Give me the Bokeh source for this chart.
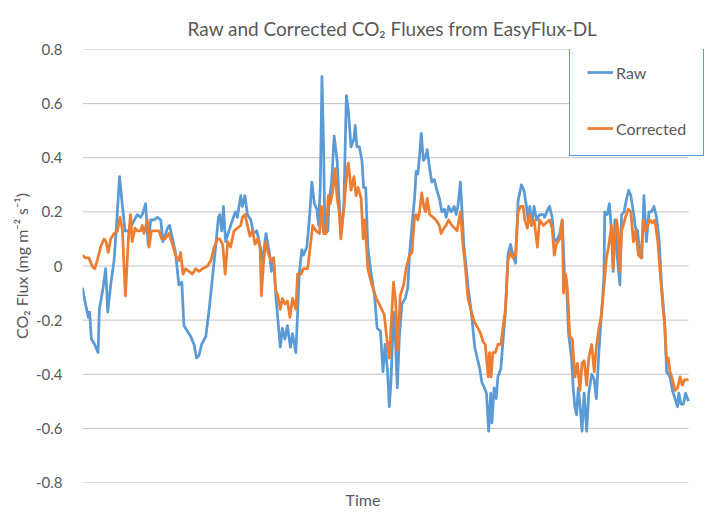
from bokeh.plotting import figure
from bokeh.models import Range1d, FixedTicker, Legend, LegendItem, Title
from bokeh.embed import file_html
from bokeh.resources import INLINE

# Time in hours from start of record
raw_time = [0, 0.7, 1.4, 1.7, 2.1, 2.9, 3.7, 4.0, 4.8, 5.5, 6.0, 6.7, 7.5, 8.0, 8.8, 9.5, 10.1, 11.0,
            12.0, 13.0, 13.8, 14.2, 15.0, 15.6, 16.2, 17.0, 17.8, 18.6, 19.1, 20.2, 20.7, 21.4, 22.1,
            22.9, 23.6, 24.1, 24.9, 25.7, 26.5, 27.1, 27.7, 28.3, 29.3, 30.1, 30.7, 31.5, 32.3, 32.6,
            33.1, 33.5, 34.0, 34.8, 36.3, 36.8, 37.6, 38.0, 38.6, 39.2, 40.0, 40.6, 41.4, 42.0, 42.8,
            43.6, 44.4, 44.9, 45.4, 46.0, 46.5, 47.0, 47.5, 48.1, 48.7, 49.4, 49.9, 50.7, 51.1, 51.5,
            52.1, 52.5, 53.3, 53.9, 54.5, 55.1, 55.7, 56.1, 56.5, 56.9, 57.3, 57.6, 58.3, 58.6, 59.2,
            59.8, 60.5, 61.0, 61.4, 62.1, 62.7, 63.2, 63.8, 64.5, 64.8, 65.2, 65.8, 66.4, 66.8, 67.3,
            67.8, 68.6, 69.4, 70.0, 70.8, 71.4, 71.9, 72.5, 72.9, 73.3, 73.9, 74.4, 74.8, 75.3, 75.9,
            76.7, 77.3, 77.7, 78.3, 78.9, 79.3, 79.7, 80.1, 80.5, 81.0, 81.5, 81.9, 82.5, 83.0, 83.6,
            84.2, 84.8, 85.4, 86.0, 86.4, 87.0, 87.6, 88.3, 88.8, 89.2, 89.8, 90.2, 90.6, 91.2, 91.7,
            92.4, 93.2, 93.8, 94.4, 94.9, 95.5, 96.0, 96.5, 97.0, 97.3, 97.8, 98.3, 98.7, 99.4, 99.9,
            100.5, 101.1, 101.7, 102.3, 102.9, 103.5, 104.3, 104.9, 105.5, 105.9, 106.3, 106.7, 107.3,
            107.9, 108.6, 109.5, 109.8, 110.6, 111.0, 111.6, 112.1, 112.9, 113.4, 114.0, 114.5, 115.0,
            115.5, 116.2, 116.6, 117.0, 117.4, 117.8, 118.2, 118.7, 119.2, 119.8, 120.3, 121.0, 121.6,
            122.1, 122.7, 123.3, 123.6, 123.9, 124.1, 124.7, 125.2, 125.7, 126.1, 126.5, 127.1, 127.7,
            128.1, 128.7, 129.3, 129.8, 130.3, 130.9, 131.4, 131.9, 132.5, 132.9, 133.4, 134.0, 134.6,
            135.2, 135.8, 136.4, 137.0, 137.6, 138.3, 138.8, 139.6, 140.2, 140.8, 141.4, 141.7, 142.2,
            142.8, 143.3, 144.0]
raw_flux = [-0.08, -0.14, -0.19, -0.17, -0.27, -0.29, -0.32, -0.16, -0.09, -0.01, -0.17, -0.07, 0.02,
            0.13, 0.33, 0.22, 0.13, 0.13, 0.16, 0.19, 0.18, 0.19, 0.23, 0.08, 0.17, 0.17, 0.18, 0.17,
            0.09, 0.14, 0.15, 0.10, 0.05, -0.07, -0.06, -0.22, -0.24, -0.26, -0.29, -0.34, -0.33, -0.29,
            -0.26, -0.16, -0.07, 0.05, 0.18, 0.19, 0.13, 0.22, 0.09, 0.13, 0.20, 0.18, 0.26, 0.22, 0.26,
            0.19, 0.17, 0.12, 0.13, 0.09, 0.02, 0.12, 0.05, -0.02, 0.03, -0.12, -0.21, -0.30, -0.23,
            -0.27, -0.22, -0.30, -0.25, -0.32, -0.18, -0.03, 0.06, 0.04, 0.07, 0.17, 0.31, 0.23, 0.21,
            0.15, 0.29, 0.70, 0.43, 0.12, 0.13, 0.24, 0.31, 0.48, 0.39, 0.24, 0.12, 0.22, 0.63, 0.57,
            0.44, 0.47, 0.52, 0.44, 0.44, 0.39, 0.29, 0.29, 0.07, -0.03, -0.11, -0.23, -0.24, -0.39,
            -0.29, -0.39, -0.52, -0.43, -0.17, -0.29, -0.45, -0.26, -0.14, -0.12, -0.08, 0.04, 0.15,
            0.25, 0.35, 0.34, 0.41, 0.49, 0.39, 0.40, 0.43, 0.36, 0.31, 0.32, 0.28, 0.25, 0.20, 0.21,
            0.18, 0.22, 0.20, 0.22, 0.19, 0.22, 0.31, 0.20, 0.08, -0.01, -0.09, -0.17, -0.30, -0.34,
            -0.38, -0.43, -0.45, -0.47, -0.61, -0.47, -0.58, -0.45, -0.49, -0.41, -0.38, -0.28, -0.17,
            0.04, 0.08, 0.04, 0.01, 0.24, 0.30, 0.28, 0.22, 0.17, 0.22, 0.15, 0.22, 0.17, 0.19, 0.19,
            0.18, 0.21, 0.22, 0.18, 0.09, 0.10, 0.12, 0.17, -0.02, -0.06, -0.25, -0.34, -0.45, -0.52,
            -0.55, -0.45, -0.51, -0.61, -0.47, -0.61, -0.47, -0.40, -0.42, -0.49, -0.32, -0.18, -0.12,
            -0.04, 0.20, 0.19, 0.23, 0.13, -0.02, 0.17, 0.03, -0.07, 0.19, 0.20, 0.25, 0.28, 0.26, 0.20,
            0.14, 0.13, 0.04, 0.03, 0.26, 0.09, 0.20, 0.20, 0.22, 0.18, 0.10, -0.07, -0.20, -0.39, -0.41,
            -0.46, -0.49, -0.52, -0.47, -0.51, -0.51, -0.47, -0.50]

cor_time = [0, 0.7, 1.5, 2.3, 2.9, 3.5, 4.3, 5.1, 5.6, 6.1, 6.7, 7.5, 8.3, 8.9, 9.5, 9.8, 10.2, 10.9,
            11.4, 11.8, 12.5, 13.0, 13.8, 14.2, 14.6, 15.4, 15.8, 16.4, 17.4, 18.2, 18.8, 19.6, 20.5,
            21.4, 22.1, 22.9, 23.3, 23.9, 24.5, 25.3, 26.1, 26.9, 27.7, 28.5, 29.7, 30.5, 31.3, 32.1,
            32.6, 33.3, 33.9, 34.5, 35.2, 36.0, 36.8, 37.6, 38.0, 38.6, 39.2, 39.8, 40.4, 41.0, 41.6,
            42.2, 42.5, 43.0, 43.5, 44.1, 44.8, 45.4, 45.9, 46.4, 47.0, 47.5, 48.1, 48.7, 49.3, 49.9,
            50.7, 51.1, 51.9, 52.5, 53.5, 54.1, 54.7, 55.5, 56.3, 56.8, 57.3, 57.9, 58.4, 58.9, 59.5,
            60.0, 60.5, 61.0, 61.4, 62.2, 62.9, 63.2, 63.8, 64.5, 65.0, 65.5, 66.2, 66.7, 67.1, 67.8,
            68.6, 69.0, 69.8, 70.5, 71.4, 71.7, 72.4, 72.9, 73.3, 73.9, 74.4, 74.9, 75.5, 76.3, 76.9,
            77.7, 78.3, 78.9, 79.3, 79.7, 80.1, 80.6, 81.1, 81.5, 81.9, 82.5, 83.3, 84.0, 84.8, 85.2,
            85.9, 86.4, 87.0, 87.8, 88.4, 89.0, 89.8, 90.4, 91.0, 91.6, 92.4, 93.2, 94.0, 94.6, 95.2,
            95.7, 96.4, 96.7, 97.1, 97.5, 98.1, 98.7, 99.4, 99.9, 100.5, 101.1, 101.7, 102.3, 102.9,
            103.5, 104.1, 104.7, 105.1, 105.7, 106.3, 106.7, 107.3, 108.1, 108.6, 109.5, 110.2, 111.0,
            111.6, 112.1, 112.6, 113.4, 114.0, 114.3, 114.8, 115.2, 115.8, 116.4, 117.0, 117.6, 118.2,
            118.7, 119.2, 119.8, 120.3, 121.0, 121.6, 122.1, 122.7, 123.3, 124.0, 124.5, 125.1, 125.7,
            126.1, 126.5, 126.9, 127.3, 127.7, 128.1, 128.5, 129.0, 129.7, 130.3, 130.9, 131.4, 132.1,
            132.7, 133.3, 133.8, 134.3, 134.8, 135.4, 136.0, 136.7, 137.2, 137.8, 138.4, 138.8, 139.2,
            139.6, 140.2, 140.8, 141.4, 142.0, 142.5, 143.1, 144.0]
cor_flux = [0.04, 0.03, 0.03, 0.00, -0.01, 0.02, 0.07, 0.10, 0.09, 0.05, 0.10, 0.12, 0.13, 0.18, 0.13,
            0.02, -0.11, 0.10, 0.19, 0.09, 0.14, 0.13, 0.13, 0.15, 0.12, 0.17, 0.07, 0.13, 0.13, 0.13,
            0.10, 0.10, 0.12, 0.08, 0.04, 0.02, 0.05, -0.03, -0.01, -0.02, -0.03, -0.01, -0.02, -0.01,
            0.00, 0.02, 0.07, 0.10, 0.10, 0.08, -0.03, 0.09, 0.07, 0.13, 0.14, 0.15, 0.18, 0.19, 0.15,
            0.11, 0.13, 0.08, 0.10, 0.07, -0.11, 0.01, 0.09, 0.05, 0.02, 0.03, -0.09, -0.11, -0.16,
            -0.12, -0.14, -0.13, -0.19, -0.12, -0.16, -0.03, -0.03, -0.01, -0.01, 0.07, 0.15, 0.13,
            0.12, 0.22, 0.12, 0.12, 0.26, 0.23, 0.28, 0.36, 0.25, 0.20, 0.10, 0.23, 0.36, 0.38, 0.28,
            0.33, 0.26, 0.29, 0.25, 0.10, 0.17, -0.01, -0.06, -0.08, -0.12, -0.14, -0.17, -0.18, -0.28,
            -0.34, -0.23, -0.06, -0.13, -0.31, -0.11, -0.07, -0.01, 0.04, 0.05, 0.18, 0.19, 0.17, 0.20,
            0.27, 0.22, 0.20, 0.25, 0.19, 0.18, 0.17, 0.15, 0.12, 0.14, 0.15, 0.17, 0.15, 0.14, 0.13,
            0.20, 0.08, -0.01, -0.12, -0.17, -0.21, -0.23, -0.25, -0.28, -0.29, -0.41, -0.32, -0.41,
            -0.32, -0.32, -0.29, -0.29, -0.23, -0.16, 0.02, 0.05, 0.03, 0.04, 0.20, 0.22, 0.22, 0.17,
            0.14, 0.19, 0.15, 0.17, 0.07, 0.17, 0.15, 0.16, 0.17, 0.14, 0.04, 0.08, 0.10, 0.17, -0.10,
            -0.03, -0.08, -0.26, -0.27, -0.41, -0.36, -0.46, -0.36, -0.35, -0.44, -0.34, -0.29, -0.39,
            -0.30, -0.23, -0.18, -0.06, 0.03, 0.08, 0.15, -0.01, 0.09, 0.17, 0.13, -0.02, 0.13, 0.15,
            0.18, 0.21, 0.20, 0.09, 0.13, 0.04, 0.03, 0.17, 0.13, 0.15, 0.17, 0.16, 0.17, 0.09, -0.01,
            -0.13, -0.23, -0.35, -0.34, -0.39, -0.42, -0.46, -0.45, -0.41, -0.44, -0.42, -0.42]

y_ticks = [-0.8, -0.6, -0.4, -0.2, 0.0, 0.2, 0.4, 0.6, 0.8]
y_tick_labels = ["-0.8", "-0.6", "-0.4", "-0.2", "0", "0.2", "0.4", "0.6", "0.8"]
series_names = ["Raw", "Corrected"]

FONT = "Lato"
TXT = "#595959"
GRID = "#C3C3C3"

# frame spans the legend too; data occupies the left part of it
p = figure(width=715, height=514, output_backend="svg", toolbar_location=None,
           x_range=Range1d(0, 149.94), y_range=Range1d(-0.8, 0.8),
           min_border_left=82, min_border_right=2, min_border_top=49, min_border_bottom=32)
p.outline_line_color = None
p.background_fill_color = "white"
p.border_fill_color = "white"

p.add_layout(Title(text="Raw and Corrected CO\u2082 Fluxes from EasyFlux-DL", align="left",
                   offset=105, standoff=20, text_font=FONT, text_font_size="19px",
                   text_font_style="normal", text_color=TXT), "above")

p.xgrid.visible = False
p.ygrid.visible = False

ya = p.yaxis[0]
ya.ticker = FixedTicker(ticks=y_ticks)
ya.major_label_overrides = {t: l for t, l in zip(y_ticks, y_tick_labels)}
ya.axis_line_color = None
ya.major_tick_line_color = None
ya.minor_tick_line_color = None
ya.major_label_standoff = 14
ya.major_label_text_font = FONT
ya.major_label_text_font_size = "15px"
ya.major_label_text_color = TXT
ya.axis_label = "CO\u2082 Flux (mg m\u207b\u00b2 s\u207b\u00b9)"
ya.axis_label_text_font = FONT
ya.axis_label_text_font_size = "16px"
ya.axis_label_text_font_style = "normal"
ya.axis_label_text_color = TXT
ya.axis_label_standoff = 2

p.xaxis.visible = False
p.add_layout(Title(text="Time", align="left", offset=263, standoff=10,
                   text_font=FONT, text_font_size="16px", text_font_style="normal",
                   text_color=TXT), "below")

# horizontal gridlines spanning the time axis
n = len(y_ticks)
p.segment(x0=[raw_time[0]] * n, x1=[raw_time[-1]] * n, y0=y_ticks, y1=y_ticks,
          line_color=GRID, line_width=1)

r_raw = p.line(raw_time, raw_flux, line_color="#5B9BD5", line_width=2.75, line_join="round")
r_cor = p.line(cor_time, cor_flux, line_color="#ED7D31", line_width=2.75, line_join="round")

legend = Legend(items=[LegendItem(label=series_names[0], renderers=[r_raw]),
                       LegendItem(label=series_names[1], renderers=[r_cor])],
                location=(487, 326), padding=17, spacing=36, margin=0,
                glyph_width=26, glyph_height=20, label_height=20, label_standoff=3,
                border_line_color="#5B9BD5", border_line_width=1, border_line_alpha=1.0,
                background_fill_color="white", background_fill_alpha=1.0,
                label_text_font=FONT, label_text_font_size="16px", label_text_color=TXT)
p.add_layout(legend)

open("out.html", "w").write(file_html(p, INLINE))
